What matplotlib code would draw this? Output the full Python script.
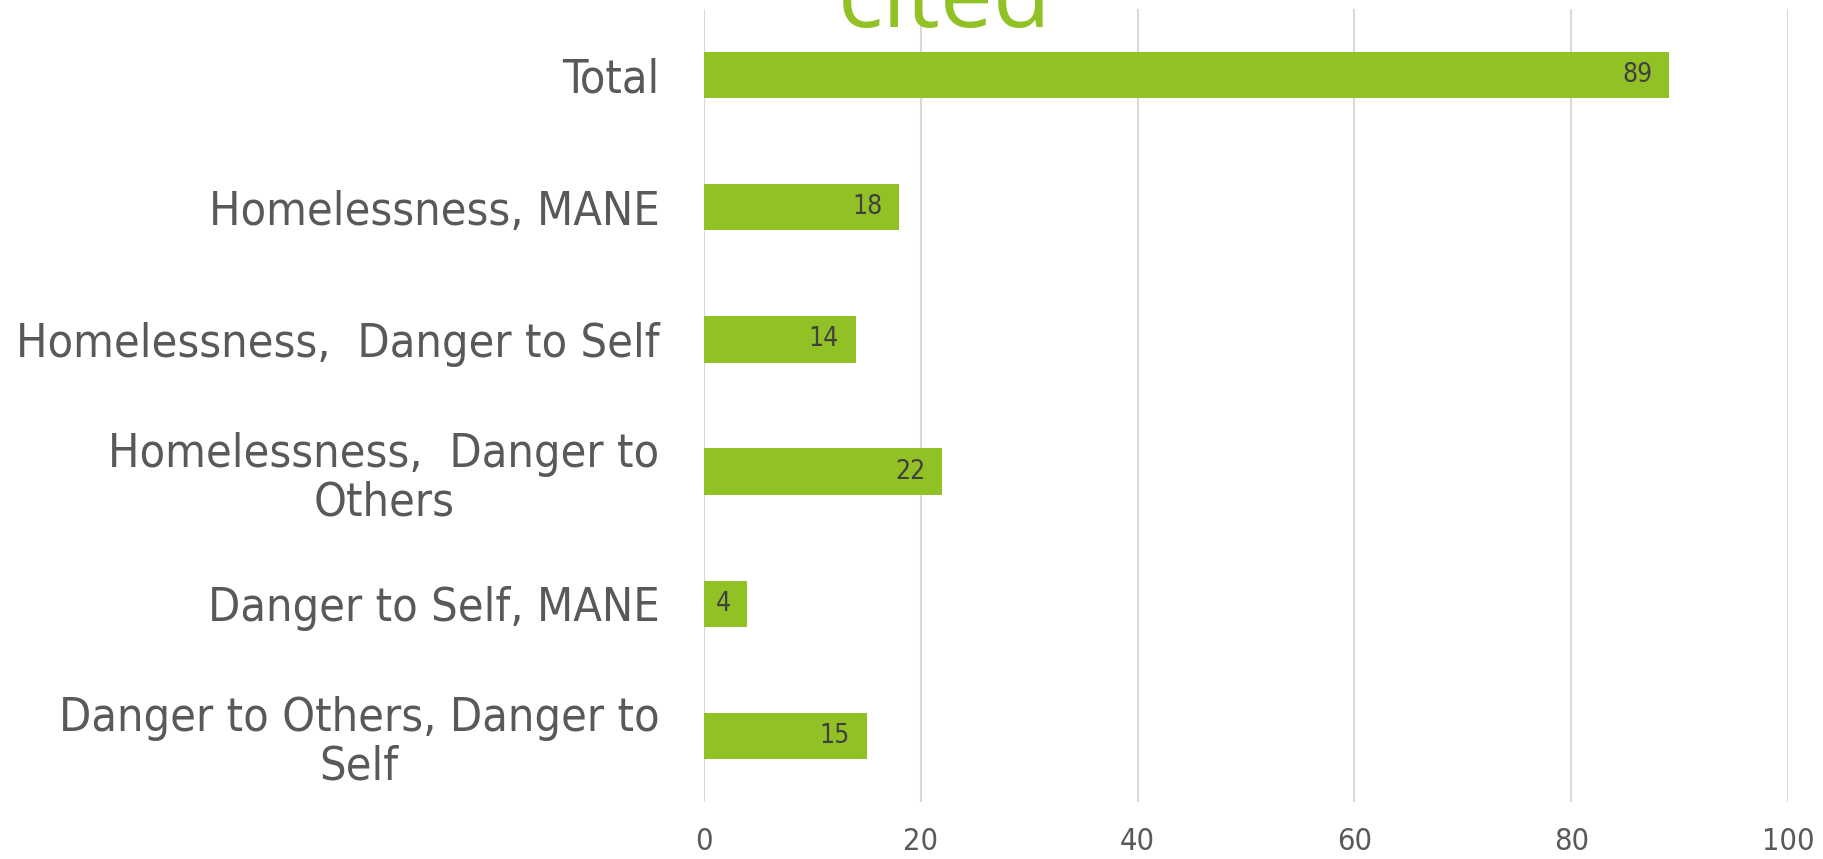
import matplotlib.pyplot as plt
import numpy as np

categories = ["Total", "Homelessness, MANE", "Homelessness,  Danger to Self",
              "Homelessness,  Danger to\nOthers", "Danger to Self, MANE",
              "Danger to Others, Danger to\nSelf"]
values = [89, 18, 14, 22, 4, 15]
xticks = [0, 20, 40, 60, 80, 100]

green = "#92C125"

fig = plt.figure(figsize=(18.24, 8.59), dpi=100)
ax = fig.add_axes([704 / 1824, 1 - 802 / 859, (1788 - 704) / 1824, (802 - 9) / 859])

y = np.arange(len(categories))
ax.barh(y, values, height=0.35, color=green, zorder=3)
for i, v in enumerate(values):
    ax.annotate(str(v), xy=(v, i), xytext=(-12, 0), textcoords="offset points",
                ha="right", va="center", fontsize=19, color="#404040",
                stretch="condensed")

ax.set_ylim(len(categories) - 0.5, -0.5)
ax.set_xlim(0, 100)
ax.set_yticks(y)
ax.set_yticklabels(categories, fontsize=33.6, color="#595959", stretch="condensed",
                   multialignment="center", linespacing=1.1)
ax.set_xticks(xticks)
ax.set_xticklabels([str(t) for t in xticks], fontsize=22, color="#595959", stretch="condensed")
ax.tick_params(axis="both", length=0)
ax.tick_params(axis="x", pad=18)
ax.tick_params(axis="y", pad=32)
for s in ax.spines.values():
    s.set_visible(False)
ax.xaxis.grid(True, color="#D9D9D9", linewidth=1.5, zorder=0)
ax.set_axisbelow(True)

# title sits mostly above the canvas, only its last word shows
fig.text(945 / 1824, 1 - 27 / 859, "cited", ha="center", va="baseline",
         fontsize=68, color=green, family=["Open Sans", "DejaVu Sans"])

fig.savefig("out.png", dpi=100)
